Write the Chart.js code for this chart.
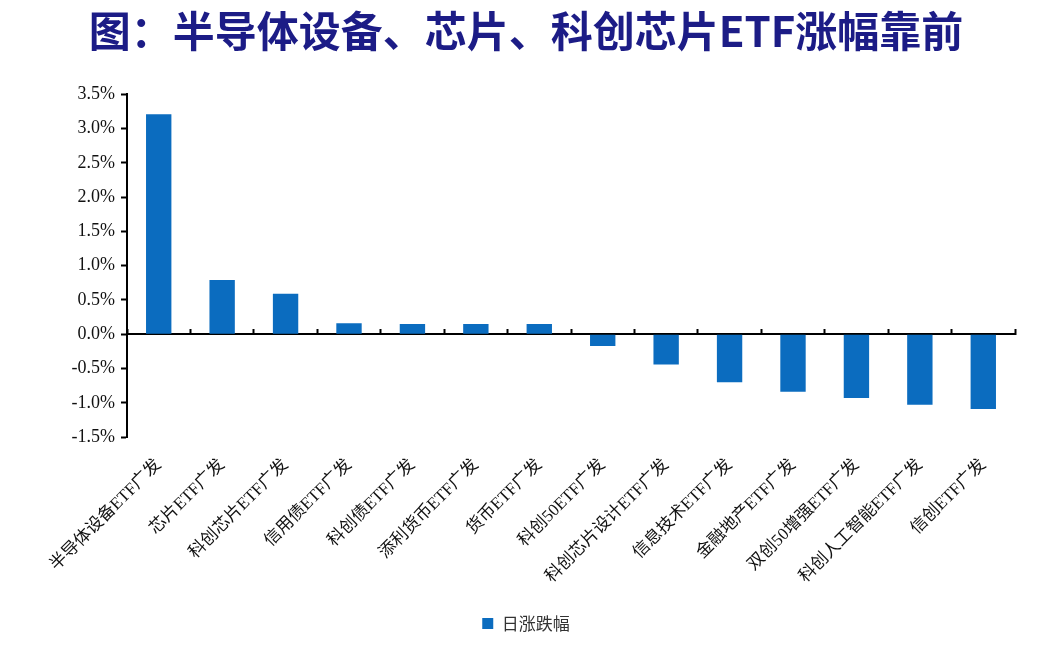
<!DOCTYPE html>
<html>
<head>
<meta charset="utf-8">
<script src="https://cdn.jsdelivr.net/npm/chart.js@4/dist/chart.umd.min.js"></script>
<style>
  html, body { margin: 0; padding: 0; background: #fff; }
  #wrap { width: 1053px; height: 654px; }
</style>
</head>
<body>
<div id="wrap"><canvas id="myChart"></canvas></div>
<script>
const ctx = document.getElementById("myChart").getContext("2d");

const labels = [
      "半导体设备ETF广发",
      "芯片ETF广发",
      "科创芯片ETF广发",
      "信用债ETF广发",
      "科创债ETF广发",
      "添利货币ETF广发",
      "货币ETF广发",
      "科创50ETF广发",
      "科创芯片设计ETF广发",
      "信息技术ETF广发",
      "金融地产ETF广发",
      "双创50增强ETF广发",
      "科创人工智能ETF广发",
      "信创ETF广发",
];

// daily change, %
const dailyChange = [3.21, 0.79, 0.59, 0.16, 0.15, 0.15, 0.15, -0.17, -0.44, -0.70, -0.84, -0.93, -1.03, -1.09];

const yTicks = [-1.5, -1.0, -0.5, 0.0, 0.5, 1.0, 1.5, 2.0, 2.5, 3.0, 3.5];

const serif = "'Liberation Serif', 'Noto Sans CJK SC', serif";

const data = {
      labels,
      datasets: [{
            label: "日涨跌幅",
            data: dailyChange,
            backgroundColor: "#0b6cbf",
            borderWidth: 0,
            barPercentage: 0.4,
            categoryPercentage: 1,
      }],
};

const config = {
      type: "bar",
      data: data,
      options: {
            responsive: true,
            maintainAspectRatio: false,
            animation: false,
            layout: {
                  padding: { left: 37, right: 38, top: 0, bottom: 12 },
            },
            plugins: {
                  title: {
                        display: true,
                        text: "图：半导体设备、芯片、科创芯片ETF涨幅靠前",
                        color: "#1c1c86",
                        font: { family: "'Noto Sans CJK SC'", size: 42, weight: "bold" },
                        padding: { top: 6, bottom: 38 },
                  },
                  legend: {
                        position: "bottom",
                        labels: {
                              boxWidth: 11,
                              boxHeight: 11,
                              color: "#333",
                              font: { family: "'Noto Sans CJK SC'", size: 17 },
                        },
                  },
                  tooltip: { enabled: false },
            },
            scales: {
                  x: {
                        position: "bottom",
                        grid: { display: false, drawTicks: false },
                        border: { display: false },
                        ticks: {
                              color: "#111",
                              font: { family: serif, size: 17 },
                              maxRotation: 45,
                              minRotation: 45,
                              padding: 18,
                              autoSkip: false,
                        },
                  },
                  x2: {
                        type: "category",
                        labels,
                        position: { y: 0 },
                        offset: true,
                        grid: {
                              offset: true,
                              drawOnChartArea: false,
                              drawTicks: true,
                              tickLength: -6,
                              tickWidth: 2,
                              color: "#000",
                        },
                        border: { display: true, color: "#000", width: 2 },
                        ticks: { display: false },
                  },
                  y: {
                        min: -1.5,
                        max: 3.5,
                        afterBuildTicks: (axis) => {
                              axis.ticks = yTicks.map((v) => ({ value: v }));
                        },
                        afterFit: (axis) => {
                              axis.width = 90;
                        },
                        grid: {
                              drawOnChartArea: false,
                              drawTicks: true,
                              tickLength: 6,
                              tickWidth: 2,
                              color: "#000",
                        },
                        border: { display: true, color: "#000", width: 2 },
                        ticks: {
                              color: "#111",
                              font: { family: serif, size: 18 },
                              padding: 6,
                              callback: function (value) {
                                    return value.toFixed(1) + "%";
                              },
                        },
                  },
            },
      },
};

const myChart = new Chart(ctx, config);
</script>
</body>
</html>
